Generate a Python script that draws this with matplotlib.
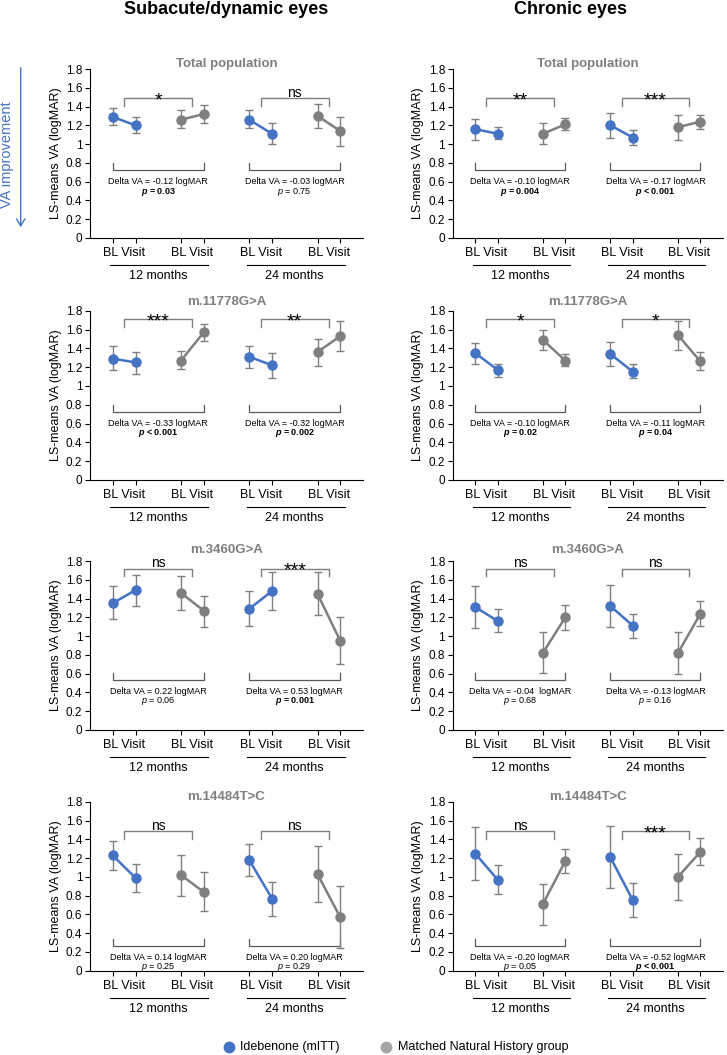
import matplotlib
matplotlib.use("Agg")
import matplotlib.pyplot as plt
from matplotlib.lines import Line2D

plt.rcParams['font.family'] = ['Liberation Sans', 'DejaVu Sans']
plt.rcParams['mathtext.fontset'] = 'custom'
plt.rcParams['mathtext.rm'] = 'Liberation Sans'
plt.rcParams['mathtext.it'] = 'Liberation Sans:italic'
plt.rcParams['mathtext.bf'] = 'Liberation Sans:bold'
plt.rcParams['mathtext.bfit'] = 'Liberation Sans:italic:bold'

# ---------------- data ----------------
column_titles = ["Subacute/dynamic eyes", "Chronic eyes"]
row_titles = ["Total population", "m.11778G>A", "m.3460G>A", "m.14484T>C"]
period_labels = ["12 months", "24 months"]
tick_label = "BL Visit"
yticks = [0, 0.2, 0.4, 0.6, 0.8, 1, 1.2, 1.4, 1.6, 1.8]
legend_labels = ["Idebenone (mITT)", "Matched Natural History group"]

# values per row: [BL 12m, Visit 12m, BL 24m, Visit 24m]
sub_ide_mean = [[1.29, 1.20, 1.26, 1.11], [1.29, 1.25, 1.31, 1.22], [1.35, 1.49, 1.29, 1.48], [1.23, 0.99, 1.18, 0.77]]
sub_ide_lo = [[1.20, 1.12, 1.17, 1.00], [1.17, 1.13, 1.19, 1.08], [1.18, 1.32, 1.11, 1.28], [1.07, 0.84, 1.01, 0.58]]
sub_ide_hi = [[1.38, 1.29, 1.36, 1.22], [1.42, 1.36, 1.43, 1.35], [1.53, 1.65, 1.48, 1.68], [1.38, 1.14, 1.35, 0.95]]
sub_nh_mean = [[1.26, 1.32, 1.30, 1.14], [1.27, 1.57, 1.36, 1.53], [1.46, 1.27, 1.45, 0.95], [1.02, 0.84, 1.03, 0.57]]
sub_nh_lo = [[1.17, 1.23, 1.17, 0.98], [1.18, 1.48, 1.21, 1.37], [1.28, 1.10, 1.22, 0.70], [0.80, 0.64, 0.73, 0.24]]
sub_nh_hi = [[1.36, 1.42, 1.43, 1.29], [1.37, 1.66, 1.50, 1.69], [1.64, 1.43, 1.68, 1.20], [1.23, 1.05, 1.33, 0.90]]

chr_ide_mean = [[1.16, 1.11, 1.20, 1.07], [1.35, 1.17, 1.34, 1.15], [1.31, 1.16, 1.32, 1.11], [1.25, 0.97, 1.21, 0.75]]
chr_ide_lo = [[1.04, 1.05, 1.07, 0.99], [1.23, 1.10, 1.21, 1.08], [1.09, 1.04, 1.10, 0.98], [0.97, 0.82, 0.88, 0.57]]
chr_ide_hi = [[1.27, 1.18, 1.33, 1.15], [1.46, 1.23, 1.47, 1.23], [1.53, 1.29, 1.54, 1.24], [1.53, 1.13, 1.54, 0.94]]
chr_nh_mean = [[1.11, 1.21, 1.18, 1.24], [1.49, 1.27, 1.54, 1.26], [0.82, 1.20, 0.82, 1.24], [0.71, 1.17, 1.00, 1.27]]
chr_nh_lo = [[1.00, 1.15, 1.04, 1.16], [1.38, 1.21, 1.38, 1.17], [0.61, 1.07, 0.60, 1.11], [0.49, 1.04, 0.75, 1.13]]
chr_nh_hi = [[1.22, 1.28, 1.31, 1.31], [1.60, 1.34, 1.69, 1.36], [1.04, 1.33, 1.04, 1.37], [0.92, 1.30, 1.25, 1.42]]

sub_sig = [["*", "ns"], ["***", "**"], ["ns", "***"], ["ns", "ns"]]
chr_sig = [["**", "***"], ["*", "*"], ["ns", "ns"], ["ns", "***"]]

sub_delta = [["-0.12", "-0.03"], ["-0.33", "-0.32"], ["0.22", "0.53"], ["0.14", "0.20"]]
chr_delta = [["-0.10", "-0.17"], ["-0.10", "-0.11"], ["-0.04 ", "-0.13"], ["-0.20", "-0.52"]]

sub_p = [["= 0.03", "= 0.75"], ["< 0.001", "= 0.002"], ["= 0.06", "= 0.001"], ["= 0.25", "= 0.29"]]
sub_p_bold = [[True, False], [True, True], [False, True], [False, False]]
chr_p = [["= 0.004", "< 0.001"], ["= 0.02", "= 0.04"], ["= 0.68", "= 0.16"], ["= 0.05", "< 0.001"]]
chr_p_bold = [[True, True], [True, True], [False, False], [False, True]]

columns = [
    (sub_ide_mean, sub_ide_lo, sub_ide_hi, sub_nh_mean, sub_nh_lo, sub_nh_hi, sub_sig, sub_delta, sub_p, sub_p_bold),
    (chr_ide_mean, chr_ide_lo, chr_ide_hi, chr_nh_mean, chr_nh_lo, chr_nh_hi, chr_sig, chr_delta, chr_p, chr_p_bold),
]

# ---------------- layout ----------------
W, H = 727, 1055
BLUE = "#4472C4"
GRAY = "#7F7F7F"
LGRAY = "#A5A5A5"

fig = plt.figure(figsize=(W / 100, H / 100), dpi=100)

col_x = [(90, 363), (452.7, 723)]
row_y = [(69, 238), (310.7, 480), (561, 730), (802, 970.7)]
title_gap = [5, 8.5, 11, 5]
top_br = [1.49, 1.71, 1.72, 1.49]
bot_br = [0.72, 0.72, 0.53, 0.26]

for c, (x0, x1) in enumerate(col_x):
    im, il, ih, nm, nl, nh, sig, delta, pv, pb = columns[c]
    for r, (yt, yb) in enumerate(row_y):
        ax = fig.add_axes([x0 / W, 1 - yb / H, (x1 - x0) / W, (yb - yt) / H])
        ax.set_xlim(0, 12)
        ax.set_ylim(0, 1.8)
        ax.set_yticks(yticks)
        ax.set_yticklabels([f"{v:g}" for v in yticks])
        ax.set_xticks([1, 2, 4, 5, 7, 8, 10, 11])
        ax.set_xticklabels([])
        for s in ("top", "right"):
            ax.spines[s].set_visible(False)
        for s in ("left", "bottom"):
            ax.spines[s].set_linewidth(0.8)
        ax.tick_params(axis="y", labelsize=8.5, length=3.5, width=0.8, pad=2)
        ax.tick_params(axis="x", length=3.5, width=0.8)
        ax.set_ylabel("LS-means VA (logMAR)", fontsize=9, labelpad=3)

        hpx = yb - yt
        upx = hpx / 1.8  # pixels per data unit
        ax.text(6, 1 + title_gap[r] / hpx, row_titles[r], transform=ax.get_xaxis_transform(),
                ha="center", va="center", fontsize=9.5, fontweight="bold", color=GRAY)

        for g in range(2):
            off = 6 * g
            xi = [1 + off, 2 + off]
            xn = [4 + off, 5 + off]
            sl = slice(2 * g, 2 * g + 2)
            mi, lo_i, hi_i = im[r][sl], il[r][sl], ih[r][sl]
            mn, lo_n, hi_n = nm[r][sl], nl[r][sl], nh[r][sl]
            ax.errorbar(xi, mi, yerr=[[m - l for m, l in zip(mi, lo_i)], [h - m for m, h in zip(mi, hi_i)]],
                        fmt="none", ecolor=GRAY, elinewidth=1, capsize=3, capthick=1, zorder=2)
            ax.errorbar(xn, mn, yerr=[[m - l for m, l in zip(mn, lo_n)], [h - m for m, h in zip(mn, hi_n)]],
                        fmt="none", ecolor=GRAY, elinewidth=1, capsize=3, capthick=1, zorder=2, clip_on=False)
            ax.plot(xi, mi, "-o", color=BLUE, lw=1.8, ms=6.5, zorder=3)
            ax.plot(xn, mn, "-o", color=GRAY, lw=1.8, ms=6.5, zorder=3)

            # top significance bracket
            tb = top_br[r]
            ax.plot([1.5 + off, 1.5 + off, 4.5 + off, 4.5 + off], [tb - 0.08, tb, tb, tb - 0.08],
                    color=GRAY, lw=1, zorder=1)
            s = sig[r][g]
            if s == "ns":
                ax.text(3 + off, tb + 1.5 / upx, s, ha="center", va="baseline", fontsize=10)
            else:
                ax.text(3 + off, tb - 7 / upx, s, ha="center", va="baseline", fontsize=14)

            # bottom delta bracket
            bb = bot_br[r]
            ax.plot([1 + off, 1 + off, 5 + off, 5 + off], [bb + 0.08, bb, bb, bb + 0.08],
                    color="#595959", lw=0.9, zorder=1)
            ax.text(3 + off, bb - 0.12, f"Delta VA = {delta[r][g]} logMAR", ha="center", va="center",
                    fontsize=6.5)
            if pb[r][g]:
                ax.text(3 + off, bb - 0.225, r"$\mathbfit{p}$ " + pv[r][g], ha="center", va="center",
                        fontsize=6.5, fontweight="bold")
            else:
                ax.text(3 + off, bb - 0.225, r"$\mathit{p}$ " + pv[r][g], ha="center", va="center",
                        fontsize=6.5)

            # x-axis group labels
            trans = ax.get_xaxis_transform()
            ax.text(1.5 + off, -15 / hpx, tick_label, transform=trans, ha="center", va="center", fontsize=9)
            ax.text(4.5 + off, -15 / hpx, tick_label, transform=trans, ha="center", va="center", fontsize=9)
            ax.plot([0.88 + off, 5.2 + off], [-27 / hpx, -27 / hpx], transform=trans, color="black",
                    lw=0.8, clip_on=False)
            ax.text(3 + off, -38 / hpx, period_labels[g], transform=trans, ha="center", va="center",
                    fontsize=9)

# column titles
fig.text(226.5 / W, 1 - 9 / H, column_titles[0], ha="center", va="center", fontsize=13, fontweight="bold")
fig.text(571 / W, 1 - 9 / H, column_titles[1], ha="center", va="center", fontsize=13, fontweight="bold")

# VA improvement arrow
fig.text(7 / W, 1 - 155 / H, "VA improvement", rotation=90, ha="center", va="center",
         fontsize=10.5, color=BLUE)
fig.patches.append(matplotlib.patches.FancyArrowPatch(
    (20.7 / W, 1 - 65 / H), (20.7 / W, 1 - 230 / H), transform=fig.transFigure,
    arrowstyle="->,head_length=5,head_width=3", color=BLUE, lw=1, figure=fig))

# legend
fig.add_artist(Line2D([229 / W], [1 - 1047 / H], marker="o", ms=7.5, color=BLUE, ls="none",
                      transform=fig.transFigure))
fig.text(240 / W, 1 - 1047 / H, legend_labels[0], ha="left", va="center", fontsize=9)
fig.add_artist(Line2D([386 / W], [1 - 1047 / H], marker="o", ms=7.5, color=LGRAY, ls="none",
                      transform=fig.transFigure))
fig.text(398 / W, 1 - 1047 / H, legend_labels[1], ha="left", va="center", fontsize=9)

fig.savefig("out.png", dpi=100)
